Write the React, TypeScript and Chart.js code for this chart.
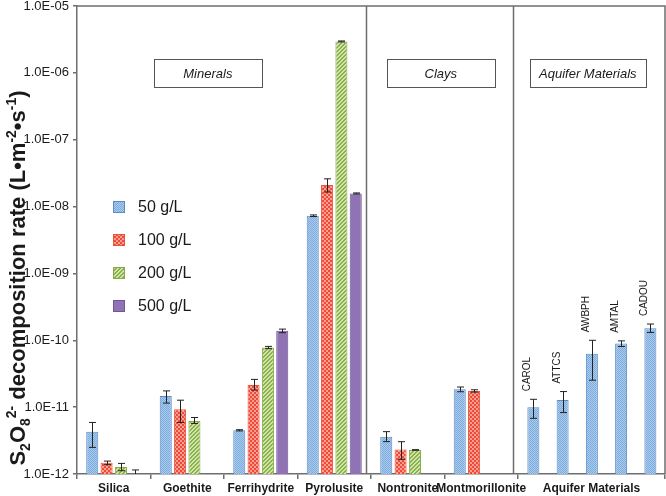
import React, { useEffect, useRef } from 'react';
import { Chart, registerables } from 'chart.js';

Chart.register(...registerables);

// ---------- data ----------
const categories = ['Silica', 'Goethite', 'Ferrihydrite', 'Pyrolusite', 'Nontronite', 'Montmorillonite'];
const aquiferGroupLabel = 'Aquifer Materials';
const seriesNames = ['50 g/L', '100 g/L', '200 g/L', '500 g/L'];

const rate50 = [4.3e-12, 1.47e-11, 4.5e-12, 7.3e-9, 3.6e-12, 1.85e-11];
const rate50Low = [2.5e-12, 1.15e-11, 4.4e-12, 7.1e-9, 3.05e-12, 1.7e-11];
const rate50High = [5.9e-12, 1.75e-11, 4.6e-12, 7.5e-9, 4.3e-12, 2.0e-11];

const rate100 = [1.47e-12, 9.3e-12, 2.15e-11, 2.1e-8, 2.33e-12, 1.75e-11];
const rate100Low = [1.38e-12, 5.9e-12, 1.8e-11, 1.65e-8, 1.66e-12, 1.68e-11];
const rate100High = [1.56e-12, 1.27e-11, 2.6e-11, 2.6e-8, 3.04e-12, 1.82e-11];

const rate200 = [1.27e-12, 6.2e-12, 7.8e-11, 2.95e-6, 2.29e-12, null];
const rate200Low = [1.12e-12, 5.7e-12, 7.5e-11, 2.9e-6, 2.27e-12, null];
const rate200High = [1.44e-12, 7.0e-12, 8.1e-11, 3.0e-6, 2.31e-12, null];

const rate500 = [9e-13, null, 1.39e-10, 1.57e-8, null, null];
const rate500Low = [7e-13, null, 1.3e-10, 1.54e-8, null, null];
const rate500High = [1.15e-12, null, 1.47e-10, 1.6e-8, null, null];

const aquiferSamples = ['CAROL', 'ATTCS', 'AWBPH', 'AMTAL', 'CADOU'];
const aquiferRate = [1.0e-11, 1.28e-11, 6.3e-11, 8.95e-11, 1.52e-10];
const aquiferLow = [6.8e-12, 8.3e-12, 2.53e-11, 8.07e-11, 1.31e-10];
const aquiferHigh = [1.31e-11, 1.71e-11, 1.0e-10, 9.8e-11, 1.75e-10];

const yTicks = [1e-12, 1e-11, 1e-10, 1e-9, 1e-8, 1e-7, 1e-6, 1e-5];
const groupNames = ['Minerals', 'Clays', 'Aquifer Materials'];

// ---------- styles ----------
const FONT = "'Liberation Sans', Arial, Helvetica, sans-serif";
const axisColor = '#6e6e6e';
const textColor = '#1a1a1a';
const borderColors = ['#5a8cc6', '#e8553f', '#86a94a', '#6f5793'];
const W = 666;
const H = 496;
const AREA = { left: 77, top: 6, right: 1, bottom: 22 };

function makePattern(kind: number): CanvasPattern | string {
  const c = document.createElement('canvas');
  const g = c.getContext('2d');
  if (!g) return '#999';
  if (kind === 0) {
    c.width = 2; c.height = 2;
    g.fillStyle = '#a8cbee'; g.fillRect(0, 0, 2, 2);
    g.fillStyle = '#7eabdb'; g.fillRect(0, 0, 1, 1); g.fillRect(1, 1, 1, 1);
  } else if (kind === 1) {
    c.width = 4; c.height = 4;
    g.fillStyle = '#f0493a'; g.fillRect(0, 0, 4, 4);
    g.fillStyle = '#f7a08f'; g.fillRect(0, 0, 2, 2); g.fillRect(2, 2, 2, 2);
  } else if (kind === 2) {
    c.width = 4; c.height = 4;
    g.fillStyle = '#d0e5aa'; g.fillRect(0, 0, 4, 4);
    g.fillStyle = '#8bb04c';
    for (let i = 0; i < 4; i++) {
      g.fillRect(i, 3 - i, 1, 1);
      g.fillRect((i + 1) % 4, 3 - i, 1, 1);
    }
  } else {
    return '#8f73b5';
  }
  return g.createPattern(c, 'repeat') || '#999';
}

function drawVerticalRich(ctx: CanvasRenderingContext2D, segs: { t: string; k: string }[], baseX: number, cy: number) {
  const big = `bold 22px ${FONT}`;
  const small = `bold 14px ${FONT}`;
  ctx.save();
  let w = 0;
  for (const s of segs) {
    ctx.font = s.k === 'n' ? big : small;
    w += ctx.measureText(s.t).width;
  }
  ctx.translate(baseX, cy);
  ctx.rotate(-Math.PI / 2);
  ctx.fillStyle = textColor;
  ctx.textBaseline = 'alphabetic';
  ctx.textAlign = 'left';
  let x = -w / 2;
  for (const s of segs) {
    ctx.font = s.k === 'n' ? big : small;
    const dy = s.k === 'sub' ? 5 : s.k === 'sup' ? -9 : 0;
    ctx.fillText(s.t, x, dy);
    x += ctx.measureText(s.t).width;
  }
  ctx.restore();
}

const errorBars = {
  id: 'errorBars',
  afterDatasetsDraw(chart: any) {
    const { ctx, chartArea } = chart;
    const y = chart.scales.y;
    ctx.save();
    ctx.beginPath();
    ctx.rect(chartArea.left, chartArea.top, chartArea.right - chartArea.left, chartArea.bottom - chartArea.top);
    ctx.clip();
    ctx.strokeStyle = '#222';
    ctx.lineWidth = 1;
    chart.data.datasets.forEach((ds: any, di: number) => {
      const meta = chart.getDatasetMeta(di);
      if (!ds.errLow) return;
      meta.data.forEach((el: any, j: number) => {
        const lo = ds.errLow[j];
        const hi = ds.errHigh[j];
        if (lo == null || hi == null) return;
        const x = Math.round(el.x) + 0.5;
        const yl = y.getPixelForValue(lo);
        const yh = y.getPixelForValue(hi);
        ctx.beginPath();
        ctx.moveTo(x, yl); ctx.lineTo(x, yh);
        ctx.moveTo(x - 3.5, yl); ctx.lineTo(x + 3.5, yl);
        ctx.moveTo(x - 3.5, yh); ctx.lineTo(x + 3.5, yh);
        ctx.stroke();
      });
    });
    ctx.restore();
  },
};

function yScale(visible: boolean): any {
  return {
    type: 'logarithmic',
    display: visible,
    min: yTicks[0],
    max: yTicks[yTicks.length - 1],
    beginAtZero: false,
    afterBuildTicks: (s: any) => {
      s.ticks = yTicks.map((v) => ({ value: v }));
    },
    afterFit: (s: any) => {
      if (visible) s.width = AREA.left;
      s.paddingTop = 0;
      s.paddingBottom = 0;
    },
    border: { display: true, color: axisColor, width: 1.5 },
    grid: { drawOnChartArea: false, drawTicks: true, tickLength: 4, color: axisColor, lineWidth: 1.5 },
    ticks: {
      autoSkip: false,
      padding: 4,
      color: textColor,
      font: { family: FONT, size: 13 },
      callback: (v: any) => {
        const e = Math.round(Math.log10(Number(v)));
        return `1.0E${e < 0 ? '-' : '+'}${String(Math.abs(e)).padStart(2, '0')}`;
      },
    },
  };
}

export default function App() {
  const mainRef = useRef<HTMLCanvasElement>(null);
  const aqRef = useRef<HTMLCanvasElement>(null);

  useEffect(() => {
    const canvas = mainRef.current;
    const aqCanvas = aqRef.current;
    if (!canvas || !aqCanvas) return;
    const patterns = [0, 1, 2, 3].map(makePattern);
    const seriesData = [rate50, rate100, rate200, rate500];
    const lows = [rate50Low, rate100Low, rate200Low, rate500Low];
    const highs = [rate50High, rate100High, rate200High, rate500High];
    const slotLabels = [...categories, aquiferGroupLabel, ''];

    const datasets: any[] = seriesNames.map((name, k) => ({
      label: name,
      data: seriesData[k],
      backgroundColor: patterns[k],
      borderColor: borderColors[k],
      borderWidth: 1,
      categoryPercentage: 0.78,
      barPercentage: 0.84,
      clip: 0,
      errLow: lows[k],
      errHigh: highs[k],
    }));

    const decorations = {
      id: 'decorations',
      afterDraw(chart: any) {
        const { ctx, chartArea } = chart;
        const xt = chart.scales.xt;
        ctx.save();
        ctx.strokeStyle = axisColor;
        ctx.lineWidth = 1.5;
        ctx.beginPath();
        ctx.moveTo(chartArea.left, chartArea.top);
        ctx.lineTo(chartArea.right, chartArea.top);
        ctx.lineTo(chartArea.right, chartArea.bottom);
        ctx.stroke();
        [3.93, 5.93].forEach((v) => {
          const px = Math.round(xt.getPixelForValue(v)) + 0.5;
          ctx.beginPath();
          ctx.moveTo(px, chartArea.top);
          ctx.lineTo(px, chartArea.bottom);
          ctx.stroke();
        });
        const boxCenters = [1.78, 4.95, 6.95];
        ctx.font = `italic 13px ${FONT}`;
        ctx.textAlign = 'center';
        ctx.textBaseline = 'middle';
        ctx.lineWidth = 1;
        ctx.strokeStyle = '#555';
        groupNames.forEach((name, i) => {
          const cx = xt.getPixelForValue(boxCenters[i]);
          const tw = ctx.measureText(name).width;
          const bw = Math.max(108, tw + 18);
          const top = chartArea.top + 53;
          const bh = 28;
          ctx.fillStyle = '#fff';
          ctx.fillRect(cx - bw / 2, top, bw, bh);
          ctx.strokeRect(Math.round(cx - bw / 2) + 0.5, top + 0.5, Math.round(bw), bh);
          ctx.fillStyle = textColor;
          ctx.fillText(name, cx, top + bh / 2 + 1);
        });
        ctx.font = `16px ${FONT}`;
        ctx.textAlign = 'left';
        ctx.textBaseline = 'middle';
        seriesNames.forEach((name, k) => {
          const cy = 207 + k * 33;
          ctx.fillStyle = patterns[k] as any;
          ctx.fillRect(113, cy - 6, 12, 12);
          ctx.strokeStyle = borderColors[k];
          ctx.lineWidth = 1;
          ctx.strokeRect(113.5, cy - 5.5, 11, 11);
          ctx.fillStyle = textColor;
          ctx.fillText(name, 138, cy + 1);
        });
        drawVerticalRich(
          ctx,
          [
            { t: 'S', k: 'n' },
            { t: '2', k: 'sub' },
            { t: 'O', k: 'n' },
            { t: '8', k: 'sub' },
            { t: '2-', k: 'sup' },
            { t: ' decomposition rate (L\u2022m', k: 'n' },
            { t: '-2', k: 'sup' },
            { t: '\u2022s', k: 'n' },
            { t: '-1', k: 'sup' },
            { t: ')', k: 'n' },
          ],
          25,
          278
        );
        ctx.restore();
      },
    };

    const chart = new Chart(canvas, {
      type: 'bar',
      data: { labels: slotLabels, datasets },
      options: {
        animation: false,
        responsive: false,
        layout: { padding: { top: AREA.top, right: AREA.right, left: 0, bottom: 0 } },
        plugins: { legend: { display: false }, tooltip: { enabled: false } },
        scales: {
          x: { type: 'category', display: false, offset: true },
          xt: {
            type: 'linear',
            position: 'bottom',
            min: 0,
            max: slotLabels.length,
            offset: false,
            afterBuildTicks: (s: any) => {
              const t: any[] = [];
              for (let i = 0; i <= categories.length; i++) t.push({ value: i });
              categories.forEach((_, i) => t.push({ value: i + 0.5 }));
              t.push({ value: categories.length + 1 });
              t.push({ value: categories.length + 2 });
              t.sort((a, b) => a.value - b.value);
              s.ticks = t;
            },
            afterFit: (s: any) => {
              s.height = AREA.bottom;
              s.paddingLeft = 0;
              s.paddingRight = 0;
            },
            border: { display: true, color: axisColor, width: 1.5 },
            grid: {
              offset: false,
              drawOnChartArea: false,
              drawTicks: true,
              tickLength: 5,
              lineWidth: 1.5,
              color: (c: any) => {
                const v = c.tick ? c.tick.value : 0;
                return Number.isInteger(v) && v !== categories.length + 1 ? axisColor : 'rgba(0,0,0,0)';
              },
            },
            ticks: {
              autoSkip: false,
              maxRotation: 0,
              padding: 2,
              color: textColor,
              font: { family: FONT, size: 12, weight: 'bold' },
              callback: (v: any) => {
                const n = Number(v);
                if (!Number.isInteger(n)) return categories[Math.floor(n)];
                if (n === categories.length + 1) return aquiferGroupLabel;
                return '';
              },
            },
          },
          y: yScale(true),
        },
      } as any,
      plugins: [errorBars, decorations],
    });

    // aquifer samples: separate overlay chart sharing the same plot area and y mapping
    const sampleLabelsPlugin = {
      id: 'sampleLabels',
      afterDraw(c: any) {
        const { ctx } = c;
        const y = c.scales.y;
        const meta = c.getDatasetMeta(0);
        ctx.save();
        ctx.font = `10px ${FONT}`;
        ctx.fillStyle = textColor;
        ctx.textAlign = 'left';
        ctx.textBaseline = 'alphabetic';
        meta.data.forEach((el: any, j: number) => {
          const yh = y.getPixelForValue(aquiferHigh[j]);
          ctx.save();
          ctx.translate(el.x - 3, yh - 8);
          ctx.rotate(-Math.PI / 2);
          ctx.fillText(aquiferSamples[j], 0, 0);
          ctx.restore();
        });
        ctx.restore();
      },
    };

    const aqChart = new Chart(aqCanvas, {
      type: 'bar',
      data: {
        datasets: [
          {
            label: aquiferGroupLabel,
            data: aquiferRate.map((v, i) => ({ x: i, y: v })),
            backgroundColor: patterns[0],
            borderColor: borderColors[0],
            borderWidth: 1,
            categoryPercentage: 0.5,
            barPercentage: 0.82,
            clip: 0,
            errLow: aquiferLow,
            errHigh: aquiferHigh,
          } as any,
        ],
      },
      options: {
        animation: false,
        responsive: false,
        layout: { padding: { top: AREA.top, right: AREA.right, left: AREA.left, bottom: AREA.bottom } },
        plugins: { legend: { display: false }, tooltip: { enabled: false } },
        scales: {
          x: {
            type: 'linear',
            display: false,
            offset: false,
            min: -15.6,
            max: 4.5,
            grid: { offset: false },
            afterBuildTicks: (s: any) => {
              s.ticks = aquiferSamples.map((_, i) => ({ value: i }));
            },
          },
          y: yScale(false),
        },
      } as any,
      plugins: [errorBars, sampleLabelsPlugin],
    });

    return () => {
      chart.destroy();
      aqChart.destroy();
    };
  }, []);

  return (
    <div style={{ position: 'fixed', left: 0, top: 0, width: W, height: H, background: '#fff' }}>
      <canvas ref={mainRef} width={W} height={H} style={{ display: 'block', position: 'absolute', left: 0, top: 0 }} />
      <canvas ref={aqRef} width={W} height={H} style={{ display: 'block', position: 'absolute', left: 0, top: 0 }} />
    </div>
  );
}
